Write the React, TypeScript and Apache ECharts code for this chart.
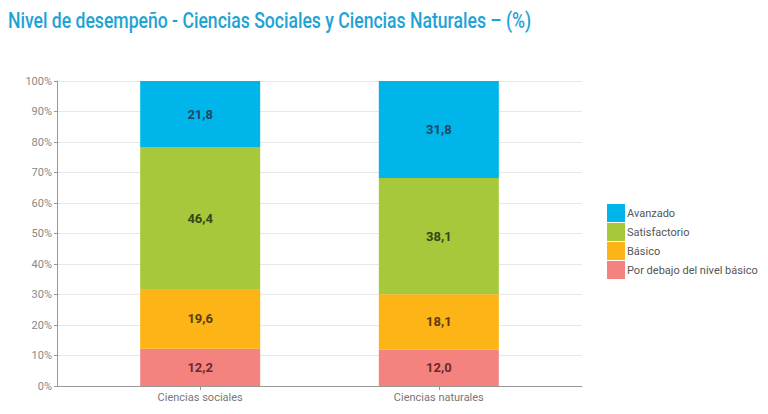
import React, { useEffect, useRef } from "react";
import * as echarts from "echarts";

const categories = ["Ciencias sociales", "Ciencias naturales"];
const seriesNames = ["Por debajo del nivel básico", "Básico", "Satisfactorio", "Avanzado"];
const porDebajo = [12.2, 12.0];
const basico = [19.6, 18.1];
const satisfactorio = [46.4, 38.1];
const avanzado = [21.8, 31.8];
const yTicks = [0, 10, 20, 30, 40, 50, 60, 70, 80, 90, 100];

const colors = ["#f4837f", "#fcb416", "#a6c83a", "#00b5ea"];
const labelColors = ["#6b2a2c", "#5a3d0c", "#34461a", "#1d4a63"];

export default function App() {
  const ref = useRef<HTMLDivElement>(null);
  useEffect(() => {
    if (!ref.current) return;
    const chart = echarts.init(ref.current, null, { renderer: "svg" });
    const values = [porDebajo, basico, satisfactorio, avanzado];
    const positions = categories.map((_, i) => i + 1);
    chart.setOption({
      animation: false,
      backgroundColor: "#ffffff",
      graphic: [
        {
          type: "text",
          x: 8,
          y: 10,
          scaleX: 0.8,
          style: {
            text: "Nivel de desempeño - Ciencias Sociales y Ciencias Naturales – (%)",
            font: "500 22px Roboto, sans-serif",
            fill: "#1ea3d4",
          },
        },
      ],
      legend: {
        orient: "vertical",
        left: 602,
        top: 199,
        itemWidth: 18,
        itemHeight: 18,
        itemGap: 1,
        icon: "rect",
        data: ["Avanzado", "Satisfactorio", "Básico", "Por debajo del nivel básico"],
        textStyle: { color: "#555", fontSize: 11, fontFamily: "Roboto, sans-serif", padding: [0, 0, 0, -3] },
      },
      grid: { left: 57, right: 186, top: 81, bottom: 28 },
      xAxis: {
        type: "value",
        min: 0.4,
        max: 2.6,
        splitLine: { show: false },
        axisLine: { show: true, lineStyle: { color: "#999" } },
        axisTick: { show: true, customValues: positions, length: 4, lineStyle: { color: "#999" } },
        axisLabel: {
          customValues: positions,
          formatter: (v: number) => categories[Math.round(v) - 1] ?? "",
          color: "#777",
          fontSize: 11,
          fontFamily: "Roboto, sans-serif",
          margin: 6,
        },
      },
      yAxis: {
        type: "value",
        min: 0,
        max: 100,
        interval: 10,
        axisLine: { show: true, lineStyle: { color: "#999" } },
        axisTick: { show: true, length: 3, lineStyle: { color: "#999" } },
        axisLabel: {
          formatter: (v: number) => `${v}%`,
          color: "#888",
          fontSize: 11,
          fontFamily: "Roboto, sans-serif",
          margin: 5,
          customValues: yTicks,
        },
        splitLine: { show: true, lineStyle: { color: "#e8e8e8" } },
      },
      series: seriesNames.map((name, si) => ({
        name,
        type: "bar",
        stack: "total",
        barWidth: 120,
        itemStyle: { color: colors[si] },
        dimensions: ["value", "pos"],
        encode: { x: "pos", y: "value" },
        label: {
          show: true,
          position: "inside",
          formatter: (p: any) => Number(p.value[0]).toFixed(1).replace(".", ","),
          color: labelColors[si],
          fontSize: 13,
          fontWeight: "bold",
          fontFamily: "Roboto, sans-serif",
        },
        data: values[si].map((v, i) => [v, positions[i]]),
      })),
    });
    return () => chart.dispose();
  }, []);
  return <div ref={ref} style={{ width: 768, height: 414, position: "absolute", left: 0, top: 0 }} />;
}
